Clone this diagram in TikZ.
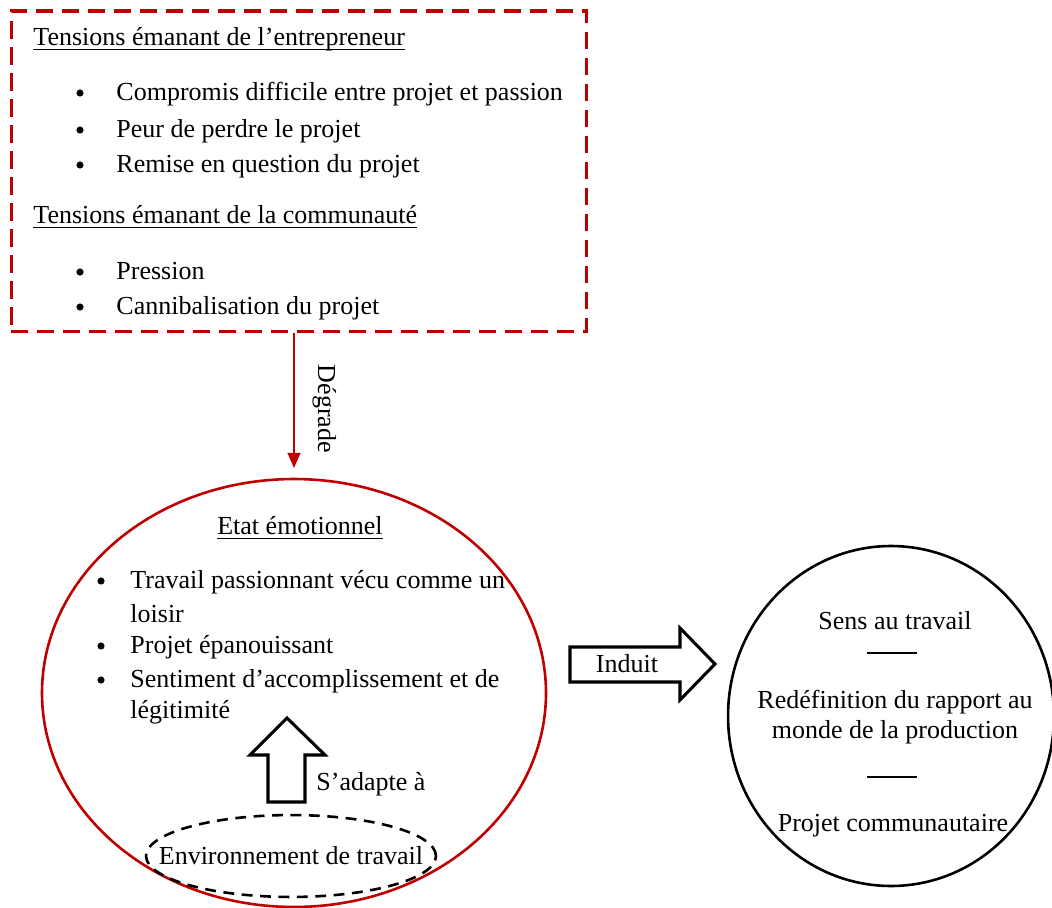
\documentclass[tikz,border=0pt]{standalone}
\usepackage{fontspec}
\setmainfont{Liberation Serif}
\usetikzlibrary{shapes.geometric,arrows.meta}
\definecolor{tensred}{RGB}{192,0,0}
\newcommand{\uln}[1]{\leavevmode\setbox0\hbox{#1}\rlap{\rule[-2.4pt]{\wd0}{0.6pt}}\box0}
\tikzset{
  bulletitem/.style={anchor=base west, inner sep=0pt},
  bulletdot/.style={circle, fill, inner sep=0pt, minimum size=3.3pt},
  centered/.style={anchor=base, inner sep=0pt},
  blockarrow/.style={draw, line width=1.4pt, line join=miter},
  sepline/.style={line width=1.3pt},
}
\begin{document}
\begin{tikzpicture}[x=0.4615pt, y=-0.4615pt, font=\fontsize{12pt}{14pt}\selectfont]
\useasboundingbox (0,0) rectangle (1052,908);
% tensions
\node[draw=tensred, line width=1.4pt, dash pattern=on 8pt off 4pt, rectangle, minimum width=265.8pt, minimum height=147.7pt, inner sep=0pt] (tensions) at (299,171) {};
\node[bulletitem] (headA) at (33,45) {\uln{Tensions émanant de l’entrepreneur}};
\node[bulletdot] (dotA1) at (80,93) {};
\node[bulletitem] (itemA1) at (116,100) {Compromis difficile entre projet et passion};
\node[bulletdot] (dotA2) at (80,130) {};
\node[bulletitem] (itemA2) at (116,137) {Peur de perdre le projet};
\node[bulletdot] (dotA3) at (80,165) {};
\node[bulletitem] (itemA3) at (116,172) {Remise en question du projet};
\node[bulletitem] (headB) at (33,223) {\uln{Tensions émanant de la communauté}};
\node[bulletdot] (dotB1) at (80,272) {};
\node[bulletitem] (itemB1) at (116,279) {Pression};
\node[bulletdot] (dotB2) at (80,307) {};
\node[bulletitem] (itemB2) at (116,314) {Cannibalisation du projet};
% etat emotionnel
\node[draw=tensred, line width=1.2pt, ellipse, minimum width=232.6pt, minimum height=197.5pt] (etat) at (294,693) {};
\node[centered] (etathead) at (300,534) {\uln{Etat émotionnel}};
\node[bulletdot] (dotC1) at (101,581) {};
\node[bulletitem] (itemC1) at (130,588) {Travail passionnant vécu comme un};
\node[bulletitem] (itemC1b) at (130,622) {loisir};
\node[bulletdot] (dotC2) at (101,646) {};
\node[bulletitem] (itemC2) at (130,653) {Projet épanouissant};
\node[bulletdot] (dotC3) at (101,680) {};
\node[bulletitem] (itemC3) at (130,687) {Sentiment d’accomplissement et de};
\node[bulletitem] (itemC3b) at (130,718) {légitimité};
\node[draw, line width=1.2pt, dash pattern=on 5pt off 3.5pt, ellipse, minimum width=133.8pt, minimum height=37.8pt] (env) at (291,856) {};
\node[inner sep=0pt] (envtext) at (env) {Environnement de travail};
\draw[blockarrow] (268,802) -- (268,755) -- (250,755) -- (287,718) -- (325,755) -- (305,755) -- (305,802) -- cycle;
\node[bulletitem] (adapte) at (316,790) {S’adapte à};
% degrade
\draw[tensred, line width=0.6pt, -{Triangle[width=6pt,length=7pt]}] (tensions.south -| etat.north) -- ([yshift=4.5pt]etat.north);
\node[rotate=-90, anchor=base, inner sep=0pt] (degrade) at (318,409) {Dégrade};
% induit
\draw[blockarrow] (570,647) -- (680,647) -- (680,628) -- (715,664) -- (680,700) -- (680,682) -- (570,682) -- cycle;
\node[centered] (induit) at (627,672) {Induit};
% sens au travail
\node[draw, line width=1.2pt, ellipse, minimum width=150.4pt, minimum height=156.9pt] (outcome) at (891,716) {};
\node[centered] (sens) at (895,629) {Sens au travail};
\draw[sepline] (867,653) -- (917,653);
\node[centered] (redef) at (895,708) {Redéfinition du rapport au};
\node[centered] (monde) at (895,738) {monde de la production};
\draw[sepline] (867,777) -- (917,777);
\node[centered] (projet) at (893,831) {Projet communautaire};
\end{tikzpicture}
\end{document}
